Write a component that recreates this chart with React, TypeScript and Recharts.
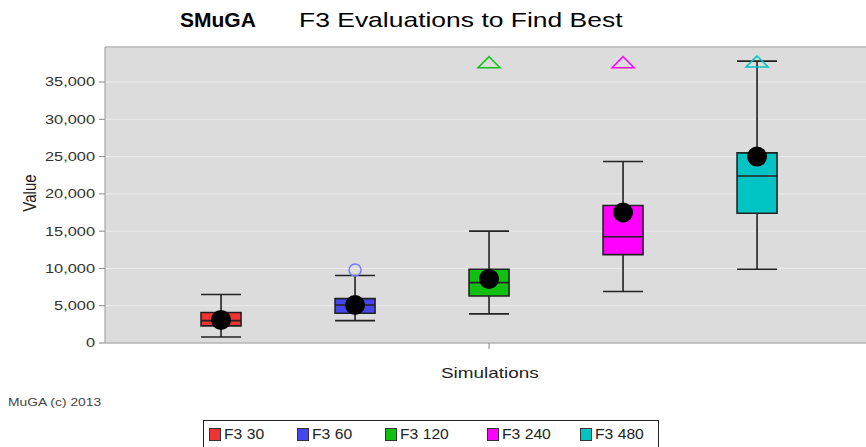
import React from "react";
import {
  ComposedChart,
  Bar,
  Scatter,
  XAxis,
  YAxis,
  CartesianGrid,
  Cell,
  ReferenceLine,
} from "recharts";

// ---- data ----
const seriesNames = ["F3 30", "F3 60", "F3 120", "F3 240", "F3 480"];
const seriesColors = ["#f03434", "#4646ee", "#10c010", "#ff00ff", "#00c4c4"];
const minValues = [800, 3000, 3900, 6900, 9900];
const q1Values = [2300, 4000, 6300, 11850, 17400];
const medianValues = [3000, 5100, 8100, 14250, 22400];
const q3Values = [4100, 5950, 9900, 18450, 25500];
const maxValues = [6500, 9050, 15000, 24350, 37800];
const meanValues = [3100, 5100, 8600, 17500, 25000];
const outliers = [{ idx: 1, value: 9800 }];
const farOutliers = [
  { idx: 2, value: 37600 },
  { idx: 3, value: 37600 },
  { idx: 4, value: 37700 },
];
const yTicks = [0, 5000, 10000, 15000, 20000, 25000, 30000, 35000];
const yMax = 39700;
const xDomain: [number, number] = [-0.866, 4.813];
const centerTick = [2];

const data = seriesNames.map((name, i) => ({
  idx: i,
  name,
  color: seriesColors[i],
  min: minValues[i],
  q1: q1Values[i],
  median: medianValues[i],
  q3: q3Values[i],
  max: maxValues[i],
  mean: meanValues[i],
}));

const farData = farOutliers.map((o) => ({ ...o, color: seriesColors[o.idx] }));
const outData = outliers.map((o) => ({ ...o, color: seriesColors[o.idx] }));

const FONT = "'Liberation Sans', Arial, sans-serif";
const SX = 1.26;

const WhiskerShape = (props: any) => {
  const { x, y, width, height } = props;
  const top = Math.min(y, y + height);
  const bot = Math.max(y, y + height);
  const cx = x + width / 2;
  return (
    <g stroke="#222" strokeWidth={1.6}>
      <line x1={cx} y1={top} x2={cx} y2={bot} />
      <line x1={x} y1={top} x2={x + width} y2={top} />
      <line x1={x} y1={bot} x2={x + width} y2={bot} />
    </g>
  );
};

const MedianShape = (props: any) => {
  const { cx, cy } = props;
  return <line x1={cx - 20} y1={cy} x2={cx + 20} y2={cy} stroke="#222" strokeWidth={1.6} />;
};

const MeanShape = (props: any) => {
  const { cx, cy } = props;
  return <circle cx={cx} cy={cy} r={10} fill="#000" />;
};

const OutlierShape = (props: any) => {
  const { cx, cy } = props;
  return <circle cx={cx} cy={cy} r={6} fill="none" stroke="#7a7aff" strokeWidth={1.5} />;
};

const TriangleShape = (props: any) => {
  const { cx, cy, payload } = props;
  return (
    <path
      d={`M${cx},${cy - 6} L${cx + 11},${cy + 5} L${cx - 11},${cy + 5} Z`}
      fill="none"
      stroke={payload.color}
      strokeWidth={1.5}
    />
  );
};

const YTick = (props: any) => {
  const { x, y, payload } = props;
  return (
    <text
      transform={`translate(${x},${y}) scale(${SX},1)`}
      textAnchor="end"
      dominantBaseline="central"
      fontSize={13}
      fill="#333"
      fontFamily={FONT}
    >
      {Number(payload.value).toLocaleString("en-US")}
    </text>
  );
};

export default function App() {
  return (
    <div
      style={{
        position: "absolute",
        left: 0,
        top: 0,
        width: 866,
        height: 447,
        background: "#fff",
        fontFamily: FONT,
        overflow: "hidden",
      }}
    >
      <div
        style={{
          position: "absolute",
          left: 180,
          top: 8,
          fontSize: 21,
          fontWeight: "bold",
          color: "#000",
        }}
      >
        SMuGA
      </div>
      <div
        style={{
          position: "absolute",
          left: 299,
          top: 8,
          fontSize: 21,
          color: "#000",
          transform: `scaleX(${SX})`,
          transformOrigin: "left top",
          whiteSpace: "nowrap",
        }}
      >
        F3 Evaluations to Find Best
      </div>
      <ComposedChart
        width={866}
        height={447}
        data={data}
        margin={{ top: 47, right: 0, bottom: 74, left: 0 }}
        style={{ position: "absolute", left: 0, top: 0 }}
      >
        <CartesianGrid
          vertical={false}
          horizontal={true}
          fill="#dcdcdc"
          stroke="#ececec"
          strokeWidth={1}
          yAxisId="y"
        />
        <XAxis
          xAxisId="main"
          dataKey="idx"
          type="number"
          domain={xDomain}
          allowDataOverflow
          ticks={centerTick}
          tickFormatter={() => ""}
          tickLine={{ stroke: "#888" }}
          axisLine={{ stroke: "#999" }}
          height={30}
        />
        <XAxis xAxisId="w" dataKey="idx" type="number" domain={xDomain} allowDataOverflow hide />
        <YAxis
          yAxisId="y"
          type="number"
          domain={[0, yMax]}
          ticks={yTicks}
          allowDataOverflow
          width={105}
          tick={<YTick />}
          tickLine={{ stroke: "#888" }}
          tickSize={6}
          tickMargin={4}
          axisLine={{ stroke: "#999" }}
        />
        <ReferenceLine yAxisId="y" xAxisId="main" y={yMax} stroke="#c4c4c4" strokeWidth={2} />
        <Bar
          xAxisId="w"
          yAxisId="y"
          dataKey={(d: any) => [d.min, d.max]}
          barSize={40}
          shape={<WhiskerShape />}
          isAnimationActive={false}
        />
        <Bar
          xAxisId="main"
          yAxisId="y"
          dataKey={(d: any) => [d.q1, d.q3]}
          barSize={40}
          stroke="#222"
          strokeWidth={1.6}
          isAnimationActive={false}
        >
          {data.map((d, i) => (
            <Cell key={i} fill={d.color} />
          ))}
        </Bar>
        <Scatter
          xAxisId="main"
          yAxisId="y"
          dataKey="median"
          shape={<MedianShape />}
          isAnimationActive={false}
        />
        <Scatter
          xAxisId="main"
          yAxisId="y"
          dataKey="mean"
          shape={<MeanShape />}
          isAnimationActive={false}
        />
        <Scatter
          xAxisId="main"
          yAxisId="y"
          data={outData}
          dataKey="value"
          shape={<OutlierShape />}
          isAnimationActive={false}
        />
        <Scatter
          xAxisId="main"
          yAxisId="y"
          data={farData}
          dataKey="value"
          shape={<TriangleShape />}
          isAnimationActive={false}
        />
      </ComposedChart>
      <div
        style={{
          position: "absolute",
          left: 29,
          top: 193,
          fontSize: 15,
          color: "#222",
          transform: `translate(-50%, -50%) rotate(-90deg) scaleY(${SX})`,
          whiteSpace: "nowrap",
        }}
      >
        Value
      </div>
      <div
        style={{
          position: "absolute",
          left: 441,
          top: 364,
          fontSize: 15,
          color: "#222",
          transform: `scaleX(${SX})`,
          transformOrigin: "left top",
          whiteSpace: "nowrap",
        }}
      >
        Simulations
      </div>
      <div
        style={{
          position: "absolute",
          left: 8,
          top: 396,
          fontSize: 11,
          color: "#444",
          transform: `scaleX(${SX})`,
          transformOrigin: "left top",
          whiteSpace: "nowrap",
        }}
      >
        MuGA (c) 2013
      </div>
      <div
        style={{
          position: "absolute",
          left: 203,
          top: 420,
          width: 456,
          height: 30,
          border: "1px solid #222",
          boxSizing: "border-box",
          background: "#fff",
        }}
      >
        {seriesNames.map((n, i) => (
          <div
            key={n}
            style={{
              position: "absolute",
              left: [5, 93, 181, 283, 376][i],
              top: 5,
              display: "flex",
              alignItems: "center",
              fontSize: 14,
              color: "#222",
              whiteSpace: "nowrap",
            }}
          >
            <span
              style={{
                display: "inline-block",
                width: 10,
                height: 11,
                background: seriesColors[i],
                border: "1px solid #333",
                marginRight: 3,
              }}
            />
            <span
              style={{
                display: "inline-block",
                transform: "scaleX(1.12)",
                transformOrigin: "left center",
              }}
            >
              {n}
            </span>
          </div>
        ))}
      </div>
    </div>
  );
}
